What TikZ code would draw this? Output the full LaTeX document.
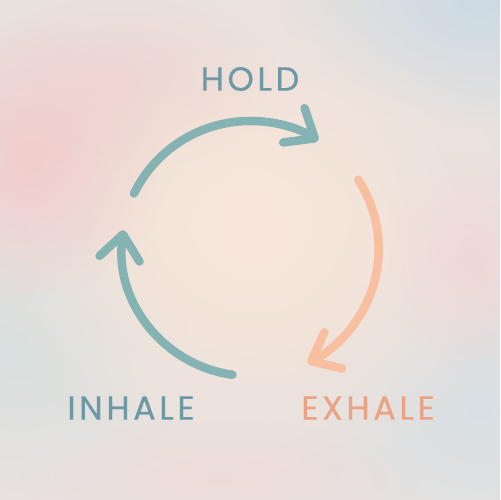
\documentclass[tikz,border=0pt]{standalone}
\usepackage{fontspec}
\setmainfont{Poppins}[LetterSpace=11, FakeBold=0.6]
\usetikzlibrary{arrows.meta,fadings,calc}
\tikzfading[name=glow, inner color=transparent!0, outer color=transparent!100]
\definecolor{bgbase}{HTML}{E8E2DF}
\definecolor{cream}{HTML}{F8E6D9}
\definecolor{pinkL}{HTML}{F2CDCC}
\definecolor{blueTR}{HTML}{CCDAE4}
\definecolor{pinkR}{HTML}{F3D5D5}
\definecolor{greyL}{HTML}{D9E0DF}
\definecolor{greyBR}{HTML}{D9E0E4}
\definecolor{tealarc}{HTML}{85B3B4}
\definecolor{peacharc}{HTML}{F8BFA0}
\definecolor{tealtext}{HTML}{6C99A5}
\definecolor{peachtext}{HTML}{EBA385}
\tikzset{
  flow/.style={line width=8.5*0.02cm, line cap=round,
    -{Straight Barb[length=14pt, width=23pt, line width=8.5*0.02cm, round]}},
  lbl/.style={font=\fontsize{19pt}{22pt}\selectfont, inner sep=0pt},
  blob/.style={fill=#1, path fading=glow}
}
\begin{document}
\begin{tikzpicture}[x=0.02cm,y=0.02cm]
\useasboundingbox (0,0) rectangle (500,500);
\fill[bgbase] (0,0) rectangle (500,500);
\begin{scope}
\clip (0,0) rectangle (500,500);
\fill[blob=greyL] (20,150) ellipse [x radius=170, y radius=150];
\fill[blob=greyBR] (480,90) ellipse [x radius=190, y radius=160];
\fill[blob=blueTR] (480,500) ellipse [x radius=200, y radius=130];
\fill[blob=cream] (255,265) ellipse [x radius=270, y radius=250];
\fill[blob=cream, opacity=0.8] (250,290) ellipse [x radius=170, y radius=170];
\fill[blob=pinkL] (30,340) ellipse [x radius=140, y radius=140];
\fill[blob=pinkL, opacity=0.6] (120,420) ellipse [x radius=160, y radius=90];
\fill[blob=pinkR, opacity=0.7] (470,240) ellipse [x radius=90, y radius=110];
\fill[blob=pinkR, opacity=0.5] (220,20) ellipse [x radius=200, y radius=60];
\end{scope}

\coordinate (c) at (250,250);
\coordinate (holdstart) at ($(c)+(154:129)$);
\coordinate (exstart) at ($(c)+(33:129)$);
\coordinate (instart) at ($(c)+(262:126)$);

\draw[flow, tealarc] (holdstart) arc[start angle=154, end angle=58, radius=129];
\draw[flow, peacharc] (exstart) arc[start angle=33, end angle=-64, radius=127];
\draw[flow, tealarc] (instart) arc[start angle=262, end angle=172, radius=128];

\node[lbl, text=tealtext] (hold) at (250,421) {HOLD};
\node[lbl, text=tealtext] (inhale) at (131,92) {INHALE};
\node[lbl, text=peachtext] (exhale) at (368,92) {EXHALE};
\end{tikzpicture}
\end{document}
